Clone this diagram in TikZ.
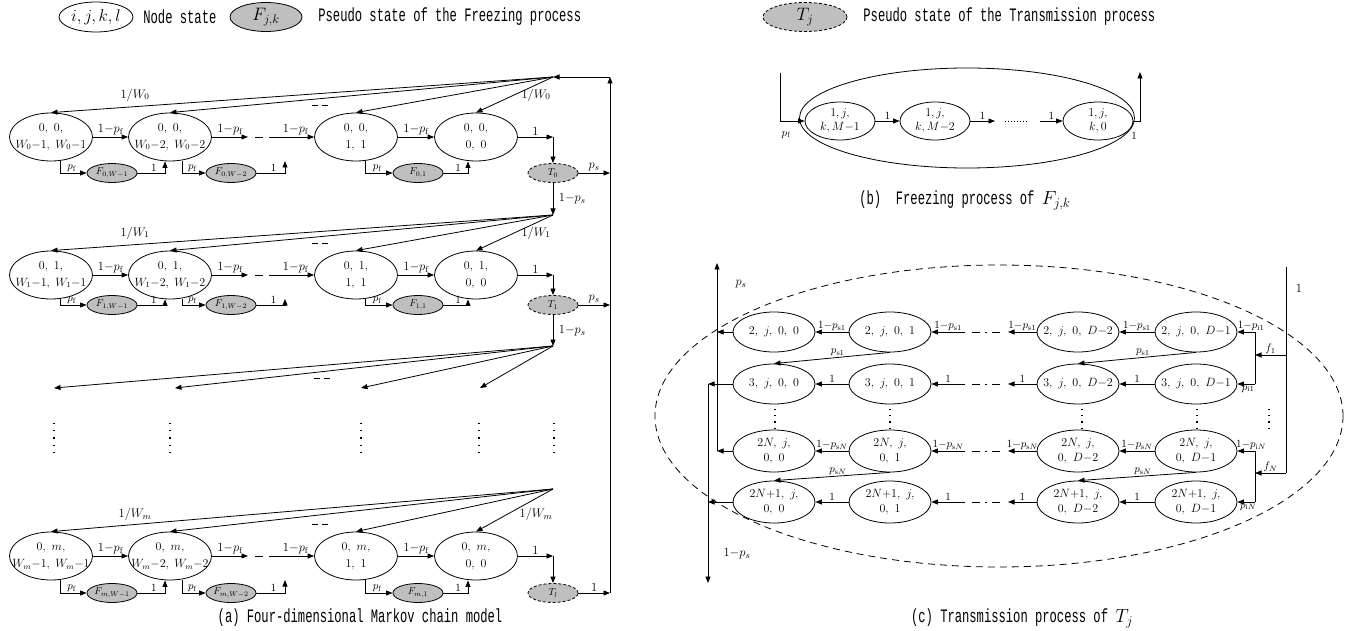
\RequirePackage{fix-cm}
\documentclass[tikz,border=0pt]{standalone}
\usepackage{fontspec}
\newfontfamily\capfont[FakeStretch=0.64]{Liberation Mono}
\usetikzlibrary{shapes.geometric,arrows.meta,calc}
\newcommand\mbx[1]{\makebox[0pt]{#1}}
\tikzset{
 ar/.style={-{Triangle[length=6.5pt,width=5pt]}},
 st/.style={ellipse,draw,inner sep=0pt,minimum width=83pt,minimum height=48pt,align=center,font=\fontsize{12}{17}\selectfont},
 fz/.style={ellipse,draw,fill=black!25,inner sep=0pt,minimum width=50pt,minimum height=19pt,font=\fontsize{10}{10}\selectfont},
 tjs/.style={fz,dash pattern=on 3pt off 2pt},
 lab/.style={inner sep=1.5pt,font=\fontsize{12.5}{12.5}\selectfont},
 slab/.style={inner sep=1pt,font=\fontsize{11}{11}\selectfont},
 cst/.style={ellipse,draw,inner sep=0pt,minimum width=82pt,minimum height=40pt,align=center,font=\fontsize{12}{15}\selectfont},
 bst/.style={ellipse,draw,inner sep=0pt,minimum width=70pt,minimum height=38pt,align=center,font=\fontsize{12}{14}\selectfont},
 captxt/.style={font=\fontsize{19}{19}\selectfont\capfont,inner sep=0pt},
 gapd/.style={dash pattern=on 8pt off 6pt},
 vdts/.style={line width=1.2pt,dash pattern=on 1.2pt off 6pt},
}
\begin{document}
\begin{tikzpicture}[x=1pt,y=-1pt,every path/.style={line width=0.8pt}]
\useasboundingbox (0,0) rectangle (1350,631);

% ---------------- legend
\node[ellipse,draw,minimum width=74pt,minimum height=30pt,inner sep=0pt,font=\fontsize{17}{17}\selectfont] (lg1) at (96,17) {\mbx{$i, j, k, l$}};
\node[captxt,anchor=west] (lt1) at (143,17) {Node state};
\node[fz,minimum width=72pt,minimum height=29pt,font=\fontsize{18}{18}\selectfont] (lg2) at (266,17) {$F_{j,k}$};
\node[captxt,anchor=west] (lt2) at (318,17) {Pseudo state of the Freezing process};
\node[tjs,minimum width=84pt,minimum height=29pt,font=\fontsize{18}{18}\selectfont] (lg3) at (805,17) {$T_j$};
\node[captxt,anchor=west] (lt3) at (863,17) {Pseudo state of the Transmission process};

% ---------------- part (a)
\foreach \rs/\rt/\ry/\rf/\rh in {0/0/137/173/77, 1/1/275/305/215, m/l/556/593/489} {
  \node[st] (a\rs1) at (51,\ry) {\mbx{$0,\ \rs,$}\\\mbx{$W_{\rs}{-}1,\;W_{\rs}{-}1$}};
  \node[st] (a\rs2) at (170,\ry) {\mbx{$0,\ \rs,$}\\\mbx{$W_{\rs}{-}2,\;W_{\rs}{-}2$}};
  \node[st] (a\rs3) at (356,\ry) {\mbx{$0,\ \rs,$}\\\mbx{$1,\ 1$}};
  \node[st] (a\rs4) at (476,\ry) {\mbx{$0,\ \rs,$}\\\mbx{$0,\ 0$}};
  \node[fz] (f\rs1) at (112,\rf) {$F_{\rs,W-1}$};
  \node[fz] (f\rs2) at (231,\rf) {$F_{\rs,W-2}$};
  \node[fz] (f\rs3) at (418,\rf) {$F_{\rs,1}$};
  \node[tjs] (t\rs) at (553,\rf) {$T_{\rt}$};
  \coordinate (h\rs) at (553,\rh);
  \coordinate (g\rs) at (248,\ry);
  \coordinate (k\rs) at (277,\ry);
  \coordinate (c\rs) at (553,\ry);
  \coordinate (u\rs) at (285,\ry+24);
  \coordinate (r\rs) at (610,\rf);
  % horizontal chain
  \draw[ar] (a\rs1.east) -- node[lab,above]{$1{-}p_{\mathrm f}$} (a\rs2.west);
  \draw[ar] (a\rs2.east) -- node[lab,above]{$1{-}p_{\mathrm f}$} (g\rs);
  \draw[gapd] (255,\ry) -- (k\rs);
  \draw[ar] (k\rs) -- node[lab,above]{$1{-}p_{\mathrm f}$} (a\rs3.west);
  \draw[ar] (a\rs3.east) -- node[lab,above]{$1{-}p_{\mathrm f}$} (a\rs4.west);
  \draw[ar] (a\rs4.east) -- node[lab,above]{$1$} (c\rs);
  \draw[ar] (c\rs) -- (t\rs.north);
  % fan from hub
  \draw[ar] (h\rs) -- (a\rs1.north);
  \draw[ar] (h\rs) -- (a\rs2.north);
  \draw[ar] (h\rs) -- (a\rs3.north);
  \draw[ar] (h\rs) -- (a\rs4.north);
  \node[lab] (wl\rs) at (135,\ry-42) {$1/W_{\rs}$};
  \node[lab] (wr\rs) at (536,\ry-42) {$1/W_{\rs}$};
  \draw[dash pattern=on 6pt off 4pt] (312,\ry-32) -- (331,\ry-32);
  % freezing branches
  \draw[ar] ($(a\rs1.south)+(9,0)$) |- node[slab,pos=0.72,above]{$p_{\mathrm f}$} (f\rs1.west);
  \draw[ar] (f\rs1.east) -| node[slab,pos=0.3,above]{$1$} ($(a\rs2.south)+(-5,0)$);
  \draw[ar] ($(a\rs2.south)+(12,0)$) |- node[slab,pos=0.72,above]{$p_{\mathrm f}$} (f\rs2.west);
  \draw[ar] (f\rs2.east) -| node[slab,pos=0.3,above]{$1$} (u\rs);
  \draw[ar] ($(a\rs3.south)+(9,0)$) |- node[slab,pos=0.72,above]{$p_{\mathrm f}$} (f\rs3.west);
  \draw[ar] (f\rs3.east) -| node[slab,pos=0.3,above]{$1$} ($(a\rs4.south)+(-8,0)$);
}
\draw[ar] (t0.east) -- node[lab,above]{$p_s$} (r0);
\draw[ar] (t1.east) -- node[lab,above]{$p_s$} (r1);
\draw[ar] (tm.east) -- node[lab,above]{$1$} (rm);
\draw[ar] (t0.south) -- node[lab,right,xshift=4pt]{$1{-}p_s$} (h1);
\coordinate (hx) at (553,346);
\draw[ar] (t1.south) -- node[lab,right,xshift=4pt]{$1{-}p_s$} (hx);
% partial row
\foreach \x [count=\i] in {54,175,361,480} {
  \coordinate (q\i) at (\x,388);
  \draw[ar] (hx) -- (q\i);
}
\draw[dash pattern=on 6pt off 4pt] (314,378) -- (333,378);
\foreach \x in {54,170,361,479,554} {
  \draw[vdts] (\x,423) -- (\x,456);
}
% right return line
\coordinate (rt) at (610,77);
\draw[ar] (rm) -- (rt);
\draw[ar] (rt) -- (h0);
\node[captxt] (capa) at (360,618) {(a) Four-dimensional Markov chain model};

% ---------------- part (b)
\node[ellipse,draw,minimum width=335pt,minimum height=100pt,inner sep=0pt] (bbig) at (967,118) {};
\node[bst] (b1) at (840,121) {\mbx{$1,j,$}\\\mbx{$k,M{-}1$}};
\node[bst] (b2) at (935,121) {\mbx{$1,j,$}\\\mbx{$k,M{-}2$}};
\node[bst] (b3) at (1098,121) {\mbx{$1,j,$}\\\mbx{$k,0$}};
\coordinate (bin) at (780,73);
\draw[ar] (bin) |- (b1.west);
\node[slab] (bpf) at (786,135) {$p_{\mathrm f}$};
\draw[ar] (b1.east) -- node[slab,above]{$1$} (b2.west);
\coordinate (bd1) at (995,121);
\draw[ar] (b2.east) -- node[slab,above]{$1$} (bd1);
\draw[line width=0.9pt,dash pattern=on 1pt off 2pt] (1005,121) -- (1029,121);
\coordinate (bd2) at (1040,121);
\draw[ar] (bd2) -- node[slab,above]{$1$} (b3.west);
\coordinate (bout) at (1140,72);
\draw[ar] (b3.east) -| (bout);
\node[slab] (bone) at (1134,136) {$1$};
\node[captxt] (capb) at (965,200) {(b)\ \ Freezing process of $F_{j,k}$};

% ---------------- part (c)
\draw[dash pattern=on 7pt off 5pt] (999,416) ellipse [x radius=344, y radius=151];
\node[cst] (c11) at (774,332) {\mbx{$2,\ j,\ 0,\ 0$}};
\node[cst] (c12) at (890,332) {\mbx{$2,\ j,\ 0,\ 1$}};
\node[cst] (c13) at (1078,332) {\mbx{$2,\ j,\ 0,\ D{-}2$}};
\node[cst] (c14) at (1196,332) {\mbx{$2,\ j,\ 0,\ D{-}1$}};
\node[cst] (c21) at (774,384) {\mbx{$3,\ j,\ 0,\ 0$}};
\node[cst] (c22) at (890,384) {\mbx{$3,\ j,\ 0,\ 1$}};
\node[cst] (c23) at (1078,384) {\mbx{$3,\ j,\ 0,\ D{-}2$}};
\node[cst] (c24) at (1196,384) {\mbx{$3,\ j,\ 0,\ D{-}1$}};
\node[cst,minimum height=42pt] (c31) at (774,451) {\mbx{$2N,\ j,$}\\\mbx{$0,\ 0$}};
\node[cst,minimum height=42pt] (c32) at (890,451) {\mbx{$2N,\ j,$}\\\mbx{$0,\ 1$}};
\node[cst,minimum height=42pt] (c33) at (1078,451) {\mbx{$2N,\ j,$}\\\mbx{$0,\ D{-}2$}};
\node[cst,minimum height=42pt] (c34) at (1196,451) {\mbx{$2N,\ j,$}\\\mbx{$0,\ D{-}1$}};
\node[cst,minimum height=42pt] (c41) at (774,502) {\mbx{$2N{+}1,\ j,$}\\\mbx{$0,\ 0$}};
\node[cst,minimum height=42pt] (c42) at (890,502) {\mbx{$2N{+}1,\ j,$}\\\mbx{$0,\ 1$}};
\node[cst,minimum height=42pt] (c43) at (1078,502) {\mbx{$2N{+}1,\ j,$}\\\mbx{$0,\ D{-}2$}};
\node[cst,minimum height=42pt] (c44) at (1196,502) {\mbx{$2N{+}1,\ j,$}\\\mbx{$0,\ D{-}1$}};

\foreach \r/\yy/\lx/\la in {1/332/717/{1{-}p_{\mathrm{s}1}}, 2/384/708/{1}, 3/451/717/{1{-}p_{\mathrm{s}N}}, 4/502/708/{1}} {
  \coordinate (cl\r) at (\lx,\yy);
  \coordinate (ca\r) at (965,\yy);
  \coordinate (cb\r) at (1008,\yy);
  \draw[ar] (c\r1.west) -- (cl\r);
  \draw[ar] (c\r2.west) -- node[slab,above]{$\la$} (c\r1.east);
  \draw[ar] (ca\r) -- node[slab,above]{$\la$} (c\r2.east);
  \draw[dash pattern=on 8pt off 5pt on 2pt off 5pt] (972,\yy) -- (1003,\yy);
  \draw[ar] (c\r3.west) -- node[slab,above]{$\la$} (cb\r);
  \draw[ar] (c\r4.west) -- node[slab,above]{$\la$} (c\r3.east);
}
\draw[ar] (c12.south) -- node[slab,above,pos=0.45]{$p_{\mathrm{s}1}$} (c21.north);
\draw[ar] (c14.south) -- node[slab,above,pos=0.45]{$p_{\mathrm{s}1}$} (c23.north);
\draw[ar] (c32.south) -- node[slab,above,pos=0.45]{$p_{\mathrm{s}N}$} (c41.north);
\draw[ar] (c34.south) -- node[slab,above,pos=0.45]{$p_{\mathrm{s}N}$} (c43.north);
% left collecting lines
\coordinate (cup) at (717,263);
\coordinate (cdn) at (708,583);
\draw[ar] (cl3) -- (cup);
\draw[ar] (cl2) -- (cdn);
\node[lab] (lps) at (741,284) {$p_s$};
\node[lab] (lqs) at (737,554) {$1{-}p_s$};
% right feed
\coordinate (cr0) at (1286,267);
\coordinate (cr1) at (1286,355);
\coordinate (cr2) at (1286,473);
\coordinate (cf1) at (1255,355);
\coordinate (cf2) at (1255,473);
\draw (cr0) -- (cr2);
\node[lab] (lone) at (1299,288) {$1$};
\draw[ar] (cr1) -- node[slab,above]{$f_1$} (cf1);
\draw[ar] (cr2) -- node[slab,above]{$f_N$} (cf2);
\coordinate (cg1) at (1255,332);
\coordinate (cg2) at (1255,384);
\coordinate (cg3) at (1255,451);
\coordinate (cg4) at (1255,502);
\draw (cg1) -- (cg2);
\draw (cg3) -- (cg4);
\draw[ar] (cg1) -- node[slab,above,xshift=5pt]{$1{-}p_{\mathrm{i}1}$} (c14.east);
\draw[ar] (cg2) -- node[slab,below,xshift=2pt]{$p_{\mathrm{i}1}$} (c24.east);
\draw[ar] (cg3) -- node[slab,above,xshift=5pt]{$1{-}p_{\mathrm{i}N}$} (c34.east);
\draw[ar] (cg4) -- node[slab,below,xshift=2pt]{$p_{\mathrm{i}N}$} (c44.east);
\foreach \x in {775,890,1082,1197,1269} {
  \draw[vdts,dash pattern=on 1.2pt off 5pt] (\x,409) -- (\x,430);
}
\node[captxt] (capc) at (1022,618) {(c) Transmission process of $T_j$};
\end{tikzpicture}
\end{document}
